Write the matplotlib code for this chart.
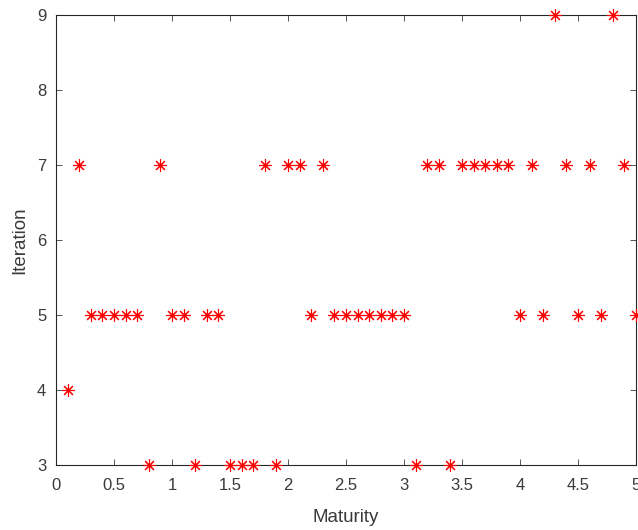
import matplotlib
matplotlib.use('Agg')
import matplotlib.pyplot as plt
import numpy as np

plt.rcParams['font.family'] = ['Liberation Sans', 'DejaVu Sans']

maturity = np.round(np.arange(1, 51) * 0.1, 1)
iteration = [4, 7, 5, 5, 5, 5, 5, 3, 7, 5,
             5, 3, 5, 5, 3, 3, 3, 7, 3, 7,
             7, 5, 7, 5, 5, 5, 5, 5, 5, 5,
             3, 7, 7, 3, 7, 7, 7, 7, 7, 5,
             7, 5, 9, 7, 5, 7, 5, 9, 7, 5]
xticks = [0, 0.5, 1, 1.5, 2, 2.5, 3, 3.5, 4, 4.5, 5]
xlabels = ['0', '0.5', '1', '1.5', '2', '2.5', '3', '3.5', '4', '4.5', '5']
yticks = [3, 4, 5, 6, 7, 8, 9]

AX_C = '#3a3a3a'

fig = plt.figure(figsize=(6.38, 5.30), dpi=100)
ax = fig.add_axes([0.0878, 0.1226, 0.909, 0.849])

# matlab-style asterisk: eight thin spokes
ax.plot(maturity, iteration, linestyle='none', marker=(8, 2, 0), color='red',
        markersize=9, markeredgewidth=0.8, clip_on=False, zorder=5)

ax.set_xlim(0, 5)
ax.set_ylim(3, 9)
ax.set_xticks(xticks)
ax.set_xticklabels(xlabels)
ax.set_yticks(yticks)
ax.tick_params(direction='in', length=4, width=0.6, colors=AX_C,
               labelsize=12, top=True, right=True)
ax.tick_params(axis='x', pad=9)
ax.tick_params(axis='y', pad=7)
for s in ax.spines.values():
    s.set_color('#262626')
    s.set_linewidth(0.8)
ax.set_xlabel('Maturity', fontsize=13.5, color=AX_C, labelpad=12)
ax.set_ylabel('Iteration', fontsize=13.5, color=AX_C, labelpad=6)

fig.savefig('out.png', dpi=100, facecolor='white')
